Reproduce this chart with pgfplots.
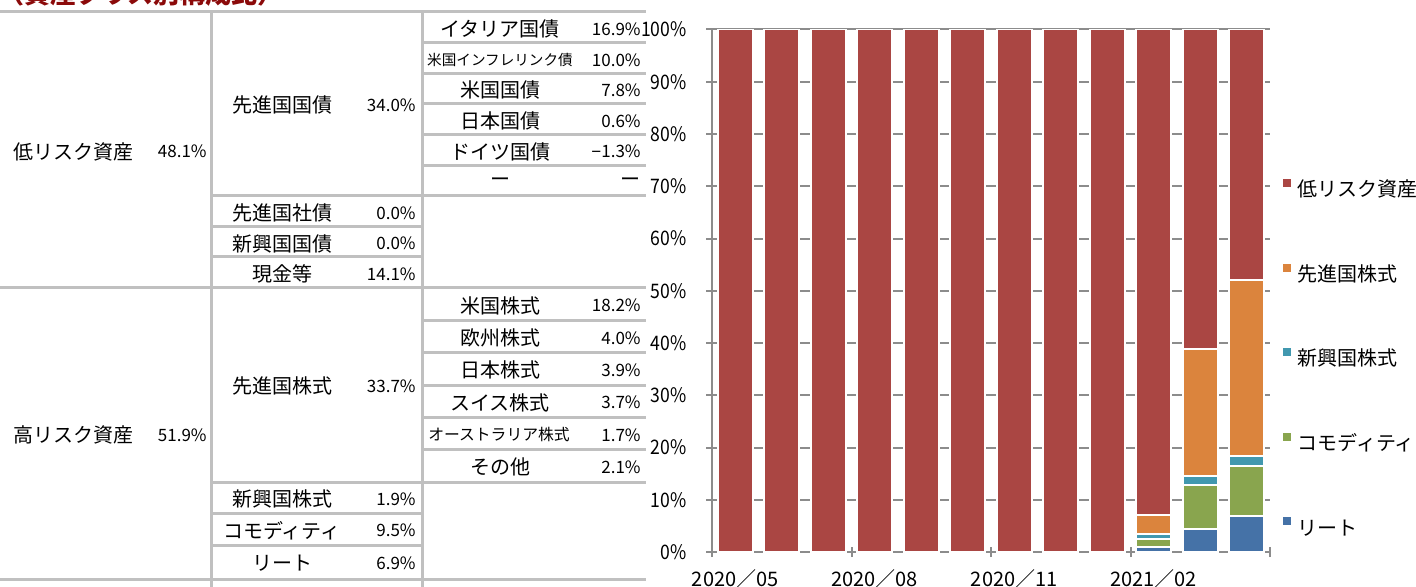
\documentclass[border=0pt]{standalone}
\usepackage{fontspec}
\setmainfont{Noto Sans CJK JP}
\newfontfamily\lib{Liberation Sans}
\newfontfamily\numf[FakeStretch=0.88]{Noto Sans CJK JP}
\usepackage{pgfplots}
\pgfplotsset{compat=1.18}
\pgfplotsset{layers/mylayers/.define layer set={axis background,axis grid,pre main,main,axis ticks,axis lines,axis tick labels,axis descriptions,axis foreground}{}}
\definecolor{cRed}{HTML}{AA4643}
\definecolor{cOrange}{HTML}{DB843D}
\definecolor{cTeal}{HTML}{4198AF}
\definecolor{cGreen}{HTML}{89A54E}
\definecolor{cBlue}{HTML}{4572A7}
\definecolor{tline}{HTML}{C0C0C0}
\definecolor{axgray}{HTML}{8C8C8C}
\definecolor{ttl}{HTML}{8B0A0A}
\newcommand{\lab}{\fontsize{10}{12}\selectfont}
\newcommand{\num}{\fontsize{8.5}{10}\selectfont}
\newcommand{\sml}{\fontsize{7.3}{9}\selectfont}
\begin{document}
\begin{tikzpicture}
\begin{scope}[x=0.5pt,y=-0.5pt, every node/.style={inner sep=0pt}]
 \node[anchor=base west, text=ttl, font=\fontsize{13}{15}\selectfont\bfseries] at (-2,4) {（資産クラス別構成比）};
 \begin{scope}[tline, line width=1.5pt]
 \draw (0,12)--(646,12) (0,288)--(646,288) (0,579)--(646,579);
 \draw (211,12)--(211,587) (422,12)--(422,587);
 \draw (211,196)--(422,196) (211,227)--(422,227) (211,257)--(422,257);
 \draw (211,482)--(422,482) (211,513)--(422,513) (211,545)--(422,545);
 \foreach \y in {42.67,73.33,104,134.67,165.33,196} \draw (422,\y)--(646,\y);
 \foreach \y in {320.33,352.67,385,417.33,449.67,482} \draw (422,\y)--(646,\y);
 \end{scope}
 % column 1
 \node[anchor=west] at (13,151.5) {\lab 低リスク資産};
 \node[anchor=east] at (207,151.5) {\num 48.1\%};
 \node[anchor=west] at (13,435) {\lab 高リスク資産};
 \node[anchor=east] at (207,435) {\num 51.9\%};
 % column 2
 \foreach \t/\v/\y in {先進国国債/34.0/105, 先進国社債/0.0/213, 新興国国債/0.0/243.5, 現金等/14.1/274, 先進国株式/33.7/386, 新興国株式/1.9/499, コモディティ/9.5/530.5, リート/6.9/563}{
   \node at (282,\y) {\lab \t};
   \node[anchor=east] at (416,\y) {\num \v\%};
 }
 % column 3
 \foreach \t/\v/\y in {イタリア国債/16.9/29, 米国国債/7.8/90, 日本国債/0.6/121, 米国株式/18.2/305.5, 欧州株式/4.0/338, 日本株式/3.9/370, スイス株式/3.7/402.5, その他/2.1/467}{
   \node at (500,\y) {\lab \t};
   \node[anchor=east] at (641,\y) {\num \v\%};
 }
 \node at (500,60) {\sml 米国インフレリンク債};
 \node[anchor=east] at (641,60) {\num 10.0\%};
 \node at (499,435) {\fontsize{7.9}{9}\selectfont オーストラリア株式};
 \node[anchor=east] at (641,435) {\num 1.7\%};
 \node at (500,151.5) {\lab ドイツ国債};
 \node[anchor=east] at (641,151.5) {\num {\lib −}1.3\%};
 \node at (500,182) {\lab ー};
 \node[anchor=east] at (641,182) {\lab ー};
\end{scope}
\begin{axis}[
 set layers=mylayers,
 at={(356pt,-276pt)}, anchor=south west,
 scale only axis, width=279pt, height=261.25pt,
 ybar stacked, bar width=0.75,
 xmin=-0.5, xmax=11.5, ymin=0, ymax=100,
 axis x line*=bottom, axis y line*=left,
 axis line style={axgray, line width=1pt},
 xtick={0,3,6,9},
 xticklabels={2020／05,2020／08,2020／11,2021／02},
 minor xtick={-0.5,2.5,5.5,8.5,11.5},
 ytick={0,10,...,100},
 yticklabel={\pgfmathprintnumber{\tick}\%},
 tick align=center,
 major tick length=6pt, minor tick length=5pt,
 every tick/.style={axgray, line width=1pt},
 major x tick style={draw=none},
 ymajorgrids,
 major grid style={axgray, line width=1pt},
 xticklabel style={font=\fontsize{10}{12}\selectfont, inner sep=0pt, yshift=-5.5pt},
 yticklabel style={font=\numf\fontsize{10}{12}\selectfont, inner sep=0pt, xshift=-9.5pt},
 /pgf/number format/assume math mode=true,
 every axis plot/.append style={draw=white, line width=1pt},
 reverse legend,
 legend cell align=left,
 legend image code/.code={\fill[#1,draw=none] (0pt,1.8pt) rectangle (4pt,5.8pt);},
 legend style={draw=none, fill=none, font=\fontsize{10}{12}\selectfont,
   anchor=north west, at={(1.0233,0.7146)}, row sep=31.5pt, column sep=3pt,
   inner sep=0pt, nodes={inner sep=0pt, text height=8pt, text depth=2pt}},
]
\addplot[fill=cBlue] coordinates {(0,0) (1,0) (2,0) (3,0) (4,0) (5,0) (6,0) (7,0) (8,0) (9,1.0) (10,4.4) (11,6.9)};
\addlegendentry{リート}
\addplot[fill=cGreen] coordinates {(0,0) (1,0) (2,0) (3,0) (4,0) (5,0) (6,0) (7,0) (8,0) (9,1.5) (10,8.5) (11,9.5)};
\addlegendentry{コモディティ}
\addplot[fill=cTeal] coordinates {(0,0) (1,0) (2,0) (3,0) (4,0) (5,0) (6,0) (7,0) (8,0) (9,0.9) (10,1.6) (11,1.9)};
\addlegendentry{新興国株式}
\addplot[fill=cOrange] coordinates {(0,0) (1,0) (2,0) (3,0) (4,0) (5,0) (6,0) (7,0) (8,0) (9,3.6) (10,24.4) (11,33.7)};
\addlegendentry{先進国株式}
\addplot[fill=cRed] coordinates {(0,100) (1,100) (2,100) (3,100) (4,100) (5,100) (6,100) (7,100) (8,100) (9,93.0) (10,61.1) (11,48.0)};
\addlegendentry{低リスク資産}
\end{axis}
\pgfresetboundingbox
\path[use as bounding box] (0pt,0pt) rectangle (708pt,-293.5pt);
\end{tikzpicture}
\end{document}
